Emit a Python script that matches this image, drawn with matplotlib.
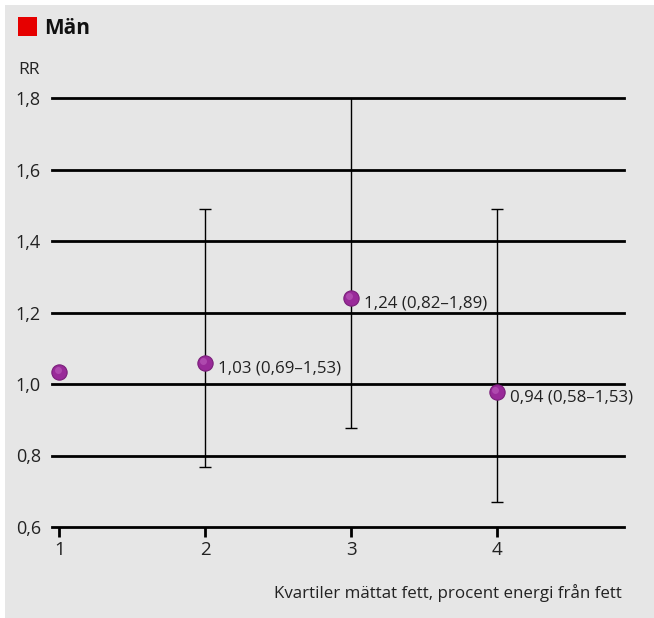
import matplotlib
matplotlib.use("Agg")
import matplotlib.pyplot as plt
from matplotlib.patches import Rectangle

plt.rcParams['font.family'] = ['Open Sans', 'DejaVu Sans']

# Data
quartiles = [1, 2, 3, 4]
rr_points = [1.034, 1.059, 1.241, 0.978]
ci_low = [None, 0.768, 0.877, 0.670]
ci_high = [None, 1.490, 1.850, 1.490]
point_labels = ["", "1,03 (0,69–1,53)", "1,24 (0,82–1,89)", "0,94 (0,58–1,53)"]
yticks = [0.6, 0.8, 1.0, 1.2, 1.4, 1.6, 1.8]
ytick_labels = ["0,6", "0,8", "1,0", "1,2", "1,4", "1,6", "1,8"]
xtick_labels = ["1", "2", "3", "4"]
title = "Män"
ylabel = "RR"
xlabel = "Kvartiler mättat fett, procent energi från fett"

W, H = 654, 618
fig = plt.figure(figsize=(W / 100, H / 100), dpi=100)
fig.patch.set_facecolor("white")
bg = "#e6e6e6"
fig.add_artist(Rectangle((5 / W, 0), 1 - 5 / W, 1 - 5 / H, transform=fig.transFigure,
                         facecolor=bg, edgecolor="none", zorder=-10))

ax = fig.add_axes([52 / W, (H - 527) / H, 572 / W, 429 / H])
ax.set_facecolor("none")
ax.set_xlim(0.95, 4.87)
ax.set_ylim(0.6, 1.8)

for s in ["top", "right", "left"]:
    ax.spines[s].set_visible(False)
ax.spines["bottom"].set_linewidth(2)
ax.spines["bottom"].set_color("black")

for y in yticks[1:]:
    ax.axhline(y, color="black", lw=2, zorder=1, clip_on=False)

ax.set_yticks(yticks)
ax.set_yticklabels(ytick_labels)
ax.tick_params(axis="y", length=0, pad=8, labelsize=13, colors="#222222")
ax.set_xticks(quartiles)
ax.set_xticklabels(xtick_labels)
ax.tick_params(axis="x", length=7, width=2, pad=3, labelsize=13.5, colors="black",
               labelcolor="#222222")

# error bars
for x, lo, hi in zip(quartiles, ci_low, ci_high):
    if lo is None:
        continue
    ax.errorbar([x], [(lo + hi) / 2], yerr=[[(lo + hi) / 2 - lo], [hi - (lo + hi) / 2]],
                fmt="none", ecolor="black", elinewidth=1, capsize=4.5, capthick=1, zorder=2)

# points with slight sphere look
ax.plot(quartiles, rr_points, "o", ms=11, color="#992a99", mec="#7a1f7a", mew=0.8,
        zorder=4, clip_on=False)
ax.plot([q - 0.012 for q in quartiles], [r + 0.006 for r in rr_points], "o", ms=5,
        color="#b857b8", mec="none", zorder=5, alpha=0.7, clip_on=False)

for x, y, lab in zip(quartiles, rr_points, point_labels):
    if lab:
        ax.annotate(lab, (x, y), xytext=(9, -4), textcoords="offset points",
                    ha="left", va="center", fontsize=12.2, color="#222222")

fig.text(18 / W, 1 - 70 / H, ylabel, fontsize=12.5, color="#222222", va="center", ha="left")
fig.add_artist(Rectangle((18 / W, 1 - 36 / H), 19 / W, 19 / H, transform=fig.transFigure,
                         facecolor="#e60000", edgecolor="none"))
fig.text(44 / W, 1 - 28 / H, title, fontsize=15, fontweight="bold", color="#111111",
         va="center", ha="left")
fig.text(622 / W, 1 - 593 / H, xlabel, fontsize=12.2, color="#222222", va="center", ha="right")

fig.savefig("out.png", dpi=100, facecolor=fig.get_facecolor())
